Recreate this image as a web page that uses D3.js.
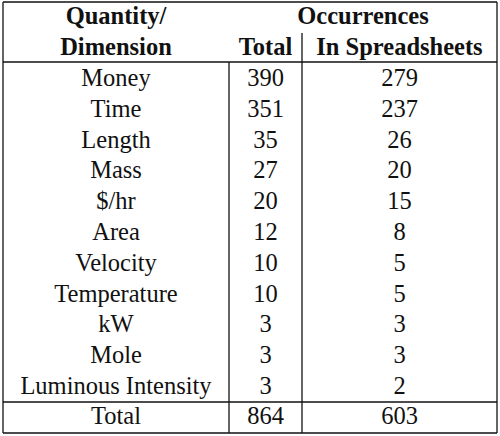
<!DOCTYPE html>
<html><head><meta charset="utf-8">
<script src="https://cdn.jsdelivr.net/npm/d3@7"></script>
<style>body{margin:0;background:#fff}text{font-family:"Liberation Serif","Times New Roman",serif;font-size:24.5px;fill:#111}</style>
</head><body><div id="tbl"></div>
<script>
// datos de la tabla
var quantities = ["Money","Time","Length","Mass","$/hr","Area","Velocity","Temperature","kW","Mole","Luminous Intensity"];
var totals = [390,351,35,27,20,12,10,10,3,3,3];
var inSpreadsheets = [279,237,26,20,15,8,5,5,3,3,2];
var sumTotal = 864, sumSheets = 603;

var svg = d3.select("#tbl").append("svg").attr("width",500).attr("height",436);
var x0 = 3, x1 = 229, x2 = 302, x3 = 497;
var rows = quantities.map(function(q,i){return [q,totals[i],inSpreadsheets[i]]});
rows.push(["Total",sumTotal,sumSheets]);
var yRow = d3.scaleLinear().domain([0,10]).range([86,394]);

function line(a,b,c,d){svg.append("line").attr("x1",a).attr("y1",b).attr("x2",c).attr("y2",d).attr("stroke","#111").attr("stroke-width",1.3);}
line(x0,2,x3,2); line(x0,433,x3,433); line(x0,2,x0,433); line(x3,2,x3,433);
line(x0,62,x3,62); line(x0,402,x3,402);
line(x1,62,x1,433); line(x2,33,x2,433);

var cx = [(x0+x1)/2,(x1+x2)/2,(x2+x3)/2];
var g = svg.selectAll("g.row").data(rows).enter().append("g").attr("class","row")
 .attr("transform",function(d,i){return "translate(0,"+(i<11?yRow(i):424)+")"});
g.selectAll("text").data(function(d){return d}).enter().append("text")
 .attr("x",function(d,j){return cx[j]})
 .attr("text-anchor","middle").text(function(d){return d});

function bold(t,xx,yy){svg.append("text").attr("x",xx).attr("y",yy).attr("text-anchor","middle").style("font-weight","bold").text(t);}
bold("Quantity/",cx[0],24); bold("Dimension",cx[0],55);
bold("Occurrences",(x1+x3)/2,24); bold("Total",cx[1],55); bold("In Spreadsheets",cx[2],55);
</script></body></html>
